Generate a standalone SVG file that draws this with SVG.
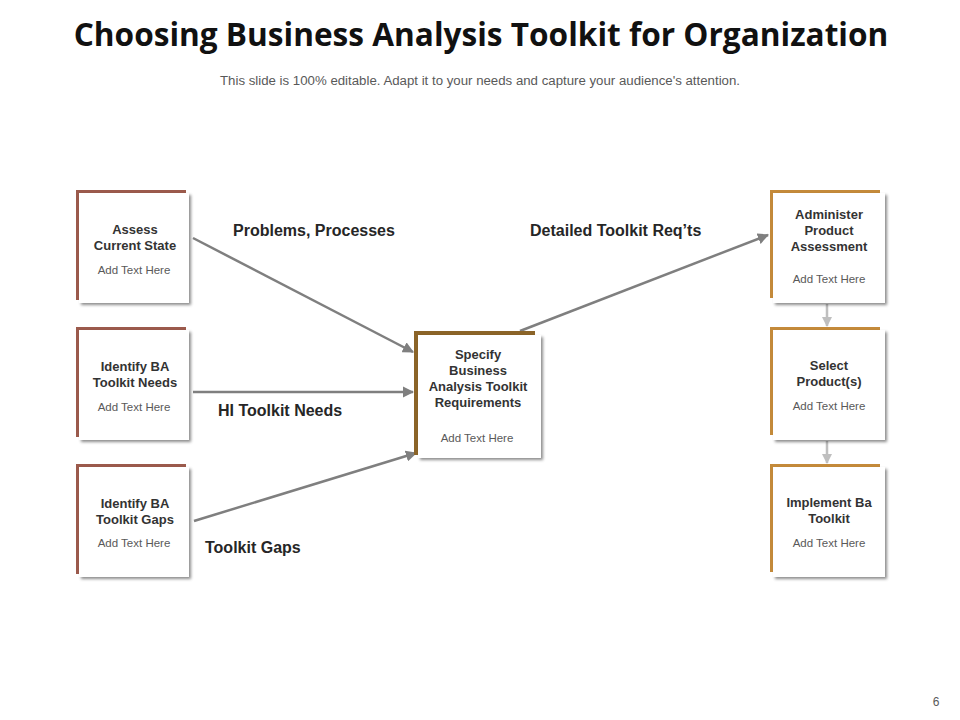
<svg xmlns="http://www.w3.org/2000/svg" width="960" height="720" viewBox="0 0 960 720">
<defs>
<filter id="sh" x="-10%" y="-10%" width="130%" height="130%">
<feDropShadow dx="2" dy="2" stdDeviation="1.5" flood-color="#000" flood-opacity="0.45"/>
</filter>
<marker id="ah" viewBox="0 0 10 10" refX="9" refY="5" markerWidth="4.5" markerHeight="4.5" orient="auto" markerUnits="strokeWidth">
<path d="M0,0 L10,5 L0,10 Z" fill="#7f7f7f"/>
</marker>
<marker id="ahl" viewBox="0 0 10 10" refX="9" refY="5" markerWidth="4" markerHeight="4" orient="auto" markerUnits="strokeWidth">
<path d="M0,0 L10,5 L0,10 Z" fill="#bfbfbf"/>
</marker>
</defs>
<style>
.title{font-family:"Open Sans","Liberation Sans",sans-serif;font-weight:bold;font-size:31.6px;fill:#111;}
.sub{font-family:"Liberation Sans",Arial,sans-serif;font-size:12.5px;fill:#595959;}
.h{font-family:"Liberation Sans",Arial,sans-serif;font-weight:bold;font-size:13px;fill:#333;text-anchor:middle;}
.t{font-family:"Liberation Sans",Arial,sans-serif;font-size:11.5px;fill:#595959;text-anchor:middle;}
.lbl{font-family:"Liberation Sans",Arial,sans-serif;font-weight:bold;font-size:16px;fill:#262626;}
.box{fill:#fff;filter:url(#sh);}
.c1{fill:#9b5a4c;}
.c2{fill:#8b6428;}
.c3{fill:#c48a3a;}
.conn{stroke:#7f7f7f;stroke-width:2.5;fill:none;}
.vconn{stroke:#bfbfbf;stroke-width:2.5;fill:none;}
</style>
<rect width="960" height="720" fill="#fff"/>
<text class="title" x="481" y="46" text-anchor="middle">Choosing Business Analysis Toolkit for Organization</text>
<text class="sub" x="480" y="85" text-anchor="middle" textLength="520" lengthAdjust="spacingAndGlyphs">This slide is 100% editable. Adapt it to your needs and capture your audience's attention.</text>

<g id="connectors">
<line class="conn" x1="193" y1="238" x2="413" y2="352" marker-end="url(#ah)"/>
<line class="conn" x1="193" y1="392" x2="413" y2="392" marker-end="url(#ah)"/>
<line class="conn" x1="194" y1="521" x2="416" y2="453" marker-end="url(#ah)"/>
<line class="conn" x1="520" y1="331" x2="768" y2="235" marker-end="url(#ah)"/>
<line class="vconn" x1="827" y1="304" x2="827" y2="326" marker-end="url(#ahl)"/>
<line class="vconn" x1="827" y1="441" x2="827" y2="463" marker-end="url(#ahl)"/>
</g>

<g id="labels">
<text class="lbl" x="233" y="236">Problems, Processes</text>
<text class="lbl" x="530" y="236">Detailed Toolkit Req’ts</text>
<text class="lbl" x="218" y="416">HI Toolkit Needs</text>
<text class="lbl" x="205" y="553">Toolkit Gaps</text>
</g>

<g id="n-assess">
<rect class="c1" x="76" y="190" width="110" height="110"/>
<rect class="box" x="79" y="193" width="110" height="110"/>
<text class="h" x="135" y="234">Assess</text>
<text class="h" x="135" y="250">Current State</text>
<text class="t" x="134" y="274">Add Text Here</text>
</g>
<g id="n-needs">
<rect class="c1" x="76" y="327" width="110" height="110"/>
<rect class="box" x="79" y="330" width="110" height="110"/>
<text class="h" x="135" y="371">Identify BA</text>
<text class="h" x="135" y="387">Toolkit Needs</text>
<text class="t" x="134" y="411">Add Text Here</text>
</g>
<g id="n-gaps">
<rect class="c1" x="76" y="464" width="110" height="110"/>
<rect class="box" x="79" y="467" width="110" height="110"/>
<text class="h" x="135" y="508">Identify BA</text>
<text class="h" x="135" y="524">Toolkit Gaps</text>
<text class="t" x="134" y="547">Add Text Here</text>
</g>
<g id="n-specify">
<rect class="c2" x="414" y="331" width="121" height="124"/>
<rect class="box" x="418" y="335" width="123" height="123"/>
<text class="h" x="478" y="359">Specify</text>
<text class="h" x="478" y="375">Business</text>
<text class="h" x="478" y="391">Analysis Toolkit</text>
<text class="h" x="478" y="407">Requirements</text>
<text class="t" x="477" y="442">Add Text Here</text>
</g>
<g id="n-administer">
<rect class="c3" x="770" y="190" width="110" height="108"/>
<rect class="box" x="773" y="193" width="112" height="110"/>
<text class="h" x="829" y="219">Administer</text>
<text class="h" x="829" y="235">Product</text>
<text class="h" x="829" y="251">Assessment</text>
<text class="t" x="829" y="283">Add Text Here</text>
</g>
<g id="n-select">
<rect class="c3" x="770" y="327" width="110" height="108"/>
<rect class="box" x="773" y="330" width="112" height="110"/>
<text class="h" x="829" y="370">Select</text>
<text class="h" x="829" y="386">Product(s)</text>
<text class="t" x="829" y="410">Add Text Here</text>
</g>
<g id="n-implement">
<rect class="c3" x="770" y="464" width="110" height="108"/>
<rect class="box" x="773" y="467" width="112" height="110"/>
<text class="h" x="829" y="507">Implement Ba</text>
<text class="h" x="829" y="523">Toolkit</text>
<text class="t" x="829" y="547">Add Text Here</text>
</g>

<text class="sub" x="936" y="706" text-anchor="middle" style="font-size:12px">6</text>
</svg>
